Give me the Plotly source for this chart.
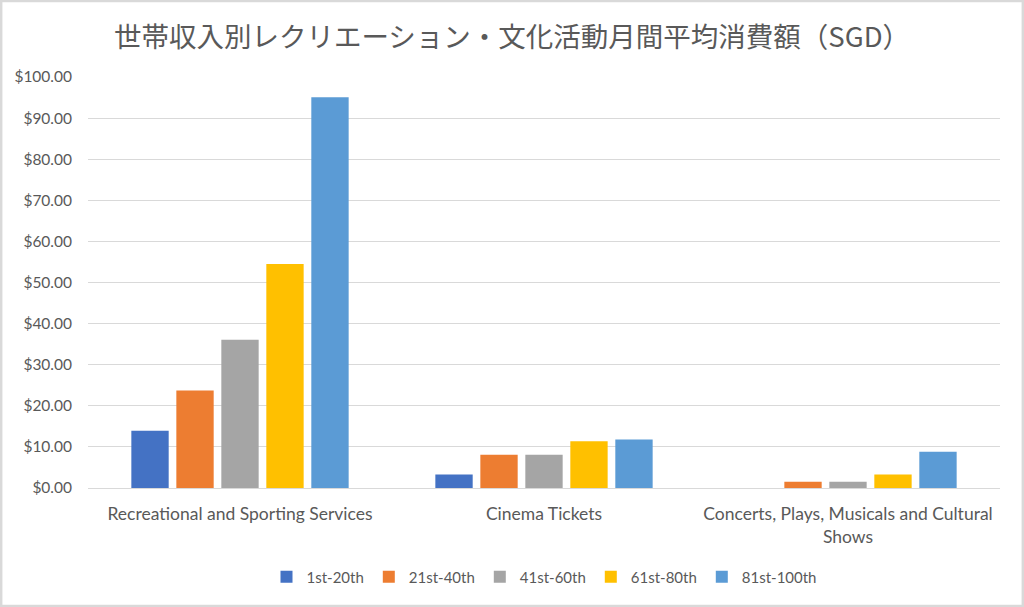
import plotly.graph_objects as go

categories = ["Recreational and Sporting Services", "Cinema Tickets",
              "Concerts, Plays, Musicals and Cultural<br>Shows"]
series_names = ["1st-20th", "21st-40th", "41st-60th", "61st-80th", "81st-100th"]
s1 = [13.9, 3.3, 0.0]
s2 = [23.7, 8.1, 1.5]
s3 = [36.1, 8.1, 1.5]
s4 = [54.5, 11.4, 3.3]
s5 = [95.1, 11.8, 8.8]
colors = ["#4472C4", "#ED7D31", "#A5A5A5", "#FFC000", "#5B9BD5"]
tick_vals = [0, 10, 20, 30, 40, 50, 60, 70, 80, 90, 100]
tick_text = ["$%.2f" % v for v in tick_vals]

W, H = 1024, 607
ml, mr, mt, mb = 88, 24, 77, 119
pw, ph = W - ml - mr, H - mt - mb

fig = go.Figure()
for name, vals, c in zip(series_names, [s1, s2, s3, s4, s5], colors):
    fig.add_trace(go.Bar(x=categories, y=vals, name=name, marker_color=c,
                         marker_line_width=0))

fig.update_layout(
    width=W, height=H,
    margin=dict(l=ml, r=mr, t=mt, b=mb),
    paper_bgcolor="white", plot_bgcolor="white",
    font=dict(family="Lato, 'Noto Sans', sans-serif", size=16, color="#595959"),
    title=dict(text="世帯収入別レクリエーション・文化活動月間平均消費額（SGD）",
               x=0.5, xanchor="center", y=1 - 37 / H, yanchor="middle",
               font=dict(family="'Noto Sans CJK JP', sans-serif", size=27.5, color="#595959")),
    barmode="group", bargap=0.26, bargroupgap=0.17,
    legend=dict(orientation="h", x=0.5, xanchor="center", y=-(577 - 488) / ph,
                yanchor="middle", font=dict(size=15, color="#595959"),
                itemwidth=30),
    showlegend=True,
)
fig.update_yaxes(range=[0, 100], tickvals=tick_vals, ticktext=tick_text,
                 showgrid=True, gridcolor="#d9d9d9", gridwidth=1,
                 zeroline=False, showline=False, ticks="",
                 ticklabelstandoff=15, tickfont=dict(size=15.5, color="#595959"))
fig.update_xaxes(showgrid=False, showline=True, linecolor="#d9d9d9", linewidth=1,
                 ticks="", ticklabelstandoff=10,
                 tickfont=dict(size=17.5, color="#595959"))
fig.add_shape(type="rect", xref="paper", yref="paper",
              x0=-ml / pw + 0.001, x1=1 + mr / pw - 0.001,
              y0=-mb / ph + 0.002, y1=1 + mt / ph - 0.002,
              line=dict(color="#d9d9d9", width=3), layer="below")
fig.write_html("out.html")
